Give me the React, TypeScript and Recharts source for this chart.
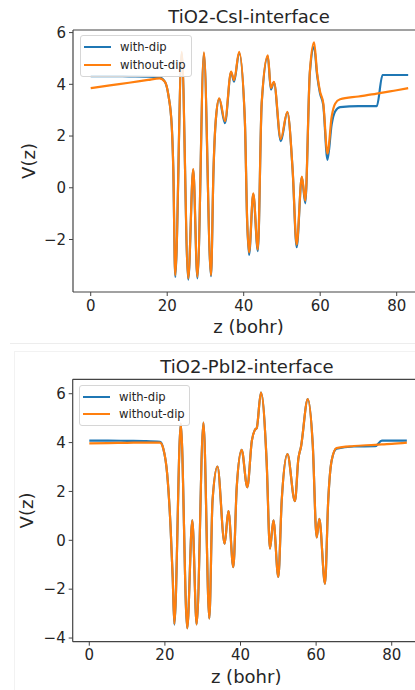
import { LineChart, Line, XAxis, YAxis, ReferenceLine } from "recharts";

const FONT = "'DejaVu Sans', sans-serif";
const INK = "#262626";
const FRAME = "#444";
const BLUE = "#1f77b4";
const ORANGE = "#ff7f0e";

const SERIES_NAMES = ["with-dip", "without-dip"];
const X_TICKS = [0, 20, 40, 60, 80];

// TiO2-CsI panel
const csiZ = [0, 5, 10, 15, 18, 19.4, 20.3, 21.2, 21.6, 22.1, 23.8, 25.5, 26.8, 27.9, 29.6, 31.45, 32.1, 32.7, 33.6, 35.1, 36.7, 37.5, 38.8, 40.3, 40.9, 41.4, 42.5, 43.7, 44.7, 46.3, 47.1, 47.9, 49.7, 51.4, 52.8, 53.85, 55.2, 56.1, 57.3, 58.4, 59.2, 59.95, 60.8, 61.9, 63.0, 63.9, 65.2, 70, 74.8, 76.3, 80, 83];
const csiWithDip = [4.32, 4.32, 4.31, 4.3, 4.27, 4.1, 3.59, 2.36, 0.68, -3.45, 5.22, -3.55, 0.7, -3.5, 5.2, -3.42, 0.66, 2.6, 3.44, 2.5, 4.46, 4.1, 5.22, 2.6, -1.27, -2.6, -0.24, -2.45, 3.25, 5.08, 3.8, 4.08, 1.8, 2.92, 0.66, -2.3, 0.41, -0.6, 4.45, 5.45, 4.35, 3.65, 3.2, 1.08, 2.45, 2.95, 3.12, 3.16, 3.16, 4.36, 4.36, 4.36];
const csiWithoutDip = [3.85, 3.96, 4.06, 4.17, 4.23, 4.1, 3.59, 2.36, 0.68, -3.38, 5.26, -3.5, 0.72, -3.44, 5.24, -3.38, 0.68, 2.62, 3.46, 2.58, 4.49, 4.16, 5.26, 2.62, -1.25, -2.5, -0.22, -2.38, 3.27, 5.12, 3.86, 4.1, 1.88, 2.94, 0.68, -2.2, 0.43, -0.5, 4.5, 5.62, 4.42, 3.72, 3.27, 1.32, 2.75, 3.25, 3.42, 3.53, 3.64, 3.68, 3.77, 3.85];
const csiYTicks = [-2, 0, 2, 4, 6];

// TiO2-PbI2 panel
const pbiZ = [0, 5, 10, 15, 18.7, 19.6, 20.6, 21.5, 22.06, 22.5, 24.2, 25.9, 27.25, 28.4, 30.2, 31.75, 32.6, 33.9, 35.8, 36.8, 38.1, 39, 40.3, 41.8, 43, 43.8, 44.3, 45.4, 46.9, 47.8, 48.7, 50, 50.9, 52.4, 54.4, 55.3, 56, 57.8, 59.1, 60.15, 60.85, 62.35, 63.2, 64.1, 65.4, 70, 75.6, 77.4, 80, 84];
const pbiWithDip = [4.08, 4.08, 4.07, 4.06, 4.03, 3.74, 2.72, 0.54, -1.5, -3.45, 4.78, -3.6, 0.82, -3.44, 4.82, -3.2, 1.63, 3.02, -0.14, 1.2, -1.1, 2.17, 3.7, 2.17, 4.08, 4.52, 4.6, 6.05, 3.26, -0.34, 0.82, -1.5, 1.63, 3.53, 1.6, 3.33, 3.83, 5.78, 3.94, 0.12, 0.88, -1.78, 1.63, 3.26, 3.75, 3.84, 3.85, 4.08, 4.08, 4.08];
const pbiWithoutDip = [3.97, 3.98, 3.99, 4.0, 4.0, 3.74, 2.72, 0.54, -1.5, -3.42, 4.78, -3.6, 0.82, -3.44, 4.82, -3.2, 1.63, 3.02, -0.14, 1.2, -1.1, 2.17, 3.7, 2.17, 4.08, 4.52, 4.6, 6.05, 3.26, -0.34, 0.82, -1.5, 1.63, 3.53, 1.6, 3.33, 3.83, 5.78, 3.94, 0.12, 0.88, -1.78, 1.63, 3.26, 3.78, 3.86, 3.91, 3.93, 3.95, 4.0];
const pbiYTicks = [-4, -2, 0, 2, 4, 6];

const fmt = (v: number) => (v < 0 ? `\u2212${Math.abs(v)}` : `${v}`);

const zip = (z: number[], a: number[], b: number[]) =>
  z.map((x, i) => ({ z: x, withDip: a[i], withoutDip: b[i] }));

const CHART_W = 440;
const XAXIS_H = 45;

type PanelProps = {
  top: number;
  height: number;
  title: string;
  titleX: number;
  titleBaseline: number;
  data: { z: number; withDip: number; withoutDip: number }[];
  yTicks: number[];
  xDomain: [number, number];
  yDomain: [number, number];
  plot: { left: number; top: number; right: number; bottom: number };
  yLabelX: number;
  xLabelBaseline: number;
  legend: { left: number; top: number; width: number; row: number };
};

function Legend({ left, top, width, row }: PanelProps["legend"]) {
  return (
    <div
      style={{
        position: "absolute",
        left,
        top,
        width,
        padding: "2px 0",
        border: "1px solid #d6d6d6",
        borderRadius: 3,
        background: "rgba(255,255,255,0.85)",
        boxSizing: "border-box",
        fontFamily: FONT,
        fontSize: 11.6,
        color: INK,
      }}
    >
      {SERIES_NAMES.map((name, i) => (
        <div key={name} style={{ display: "flex", alignItems: "center", height: row }}>
          <div style={{ width: 27, height: 2, marginLeft: 3, background: i === 0 ? BLUE : ORANGE }} />
          <span style={{ marginLeft: 9, whiteSpace: "nowrap" }}>{name}</span>
        </div>
      ))}
    </div>
  );
}

function Panel(p: PanelProps) {
  const midY = (p.plot.top + p.plot.bottom) / 2;
  const midX = (p.plot.left + p.plot.right) / 2;
  return (
    <div style={{ position: "absolute", left: 0, top: p.top, width: CHART_W, height: p.height }}>
      <div
        style={{
          position: "absolute",
          left: p.titleX - 150,
          width: 300,
          top: p.titleBaseline - 15.2,
          textAlign: "center",
          fontFamily: FONT,
          fontSize: 18,
          lineHeight: "18px",
          color: INK,
          whiteSpace: "nowrap",
        }}
      >
        {p.title}
      </div>
      <LineChart
        width={CHART_W}
        height={p.height}
        data={p.data}
        margin={{
          top: p.plot.top,
          right: CHART_W - p.plot.right,
          left: 0,
          bottom: p.height - p.plot.bottom - XAXIS_H,
        }}
      >
        <XAxis
          dataKey="z"
          type="number"
          domain={p.xDomain}
          allowDataOverflow
          ticks={X_TICKS}
          interval={0}
          height={XAXIS_H}
          tickSize={4}
          tickMargin={4}
          tick={{ fill: INK, fontSize: 15, fontFamily: FONT }}
          axisLine={{ stroke: FRAME, strokeWidth: 1.2 }}
          tickLine={{ stroke: FRAME }}
          label={{
            content: () => (
              <text x={midX} y={p.xLabelBaseline} textAnchor="middle" fontSize={18} fontFamily={FONT} fill={INK}>
                z (bohr)
              </text>
            ),
          }}
        />
        <YAxis
          type="number"
          domain={p.yDomain}
          allowDataOverflow
          ticks={p.yTicks}
          interval={0}
          width={p.plot.left}
          tickSize={4}
          tickMargin={3}
          tickFormatter={fmt}
          tick={{ fill: INK, fontSize: 15, fontFamily: FONT }}
          axisLine={{ stroke: FRAME, strokeWidth: 1.2 }}
          tickLine={{ stroke: FRAME }}
          label={{
            content: () => (
              <text
                x={p.yLabelX}
                y={midY}
                transform={`rotate(-90, ${p.yLabelX}, ${midY})`}
                textAnchor="middle"
                fontSize={18}
                fontFamily={FONT}
                fill={INK}
              >
                V(z)
              </text>
            ),
          }}
        />
        <ReferenceLine y={p.yDomain[1]} stroke={FRAME} strokeWidth={1.2} ifOverflow="visible" />
        <Line
          type="monotone"
          dataKey="withDip"
          name={SERIES_NAMES[0]}
          stroke={BLUE}
          strokeWidth={2.2}
          dot={false}
          isAnimationActive={false}
        />
        <Line
          type="monotone"
          dataKey="withoutDip"
          name={SERIES_NAMES[1]}
          stroke={ORANGE}
          strokeWidth={2.2}
          dot={false}
          isAnimationActive={false}
        />
      </LineChart>
      <Legend {...p.legend} />
    </div>
  );
}

export default function App() {
  return (
    <div
      style={{
        position: "absolute",
        left: 0,
        top: 0,
        width: 415,
        height: 690,
        overflow: "hidden",
        background: "#fff",
      }}
    >
      <Panel
        top={0}
        height={340}
        title="TiO2-CsI-interface"
        titleX={249}
        titleBaseline={23}
        data={zip(csiZ, csiWithDip, csiWithoutDip)}
        yTicks={csiYTicks}
        xDomain={[-4.63, 87.14]}
        yDomain={[-4.03, 6.1]}
        plot={{ left: 73, top: 30, right: 424, bottom: 292 }}
        yLabelX={35}
        xLabelBaseline={333}
        legend={{ left: 80, top: 35, width: 112, row: 18 }}
      />
      <div style={{ position: "absolute", left: 10, top: 343, width: 420, borderTop: "1px solid #ededed" }} />
      <div
        style={{
          position: "absolute",
          left: 14,
          top: 351,
          width: 420,
          height: 360,
          borderTop: "1px solid #f2f2f2",
          borderLeft: "1px solid #f2f2f2",
        }}
      />
      <Panel
        top={340}
        height={350}
        title="TiO2-PbI2-interface"
        titleX={247}
        titleBaseline={33}
        data={zip(pbiZ, pbiWithDip, pbiWithoutDip)}
        yTicks={pbiYTicks}
        xDomain={[-4.39, 87.4]}
        yDomain={[-4.15, 6.59]}
        plot={{ left: 72.7, top: 39.3, right: 419.7, bottom: 301.7 }}
        yLabelX={33}
        xLabelBaseline={343}
        legend={{ left: 79, top: 45, width: 111, row: 17.5 }}
      />
    </div>
  );
}
